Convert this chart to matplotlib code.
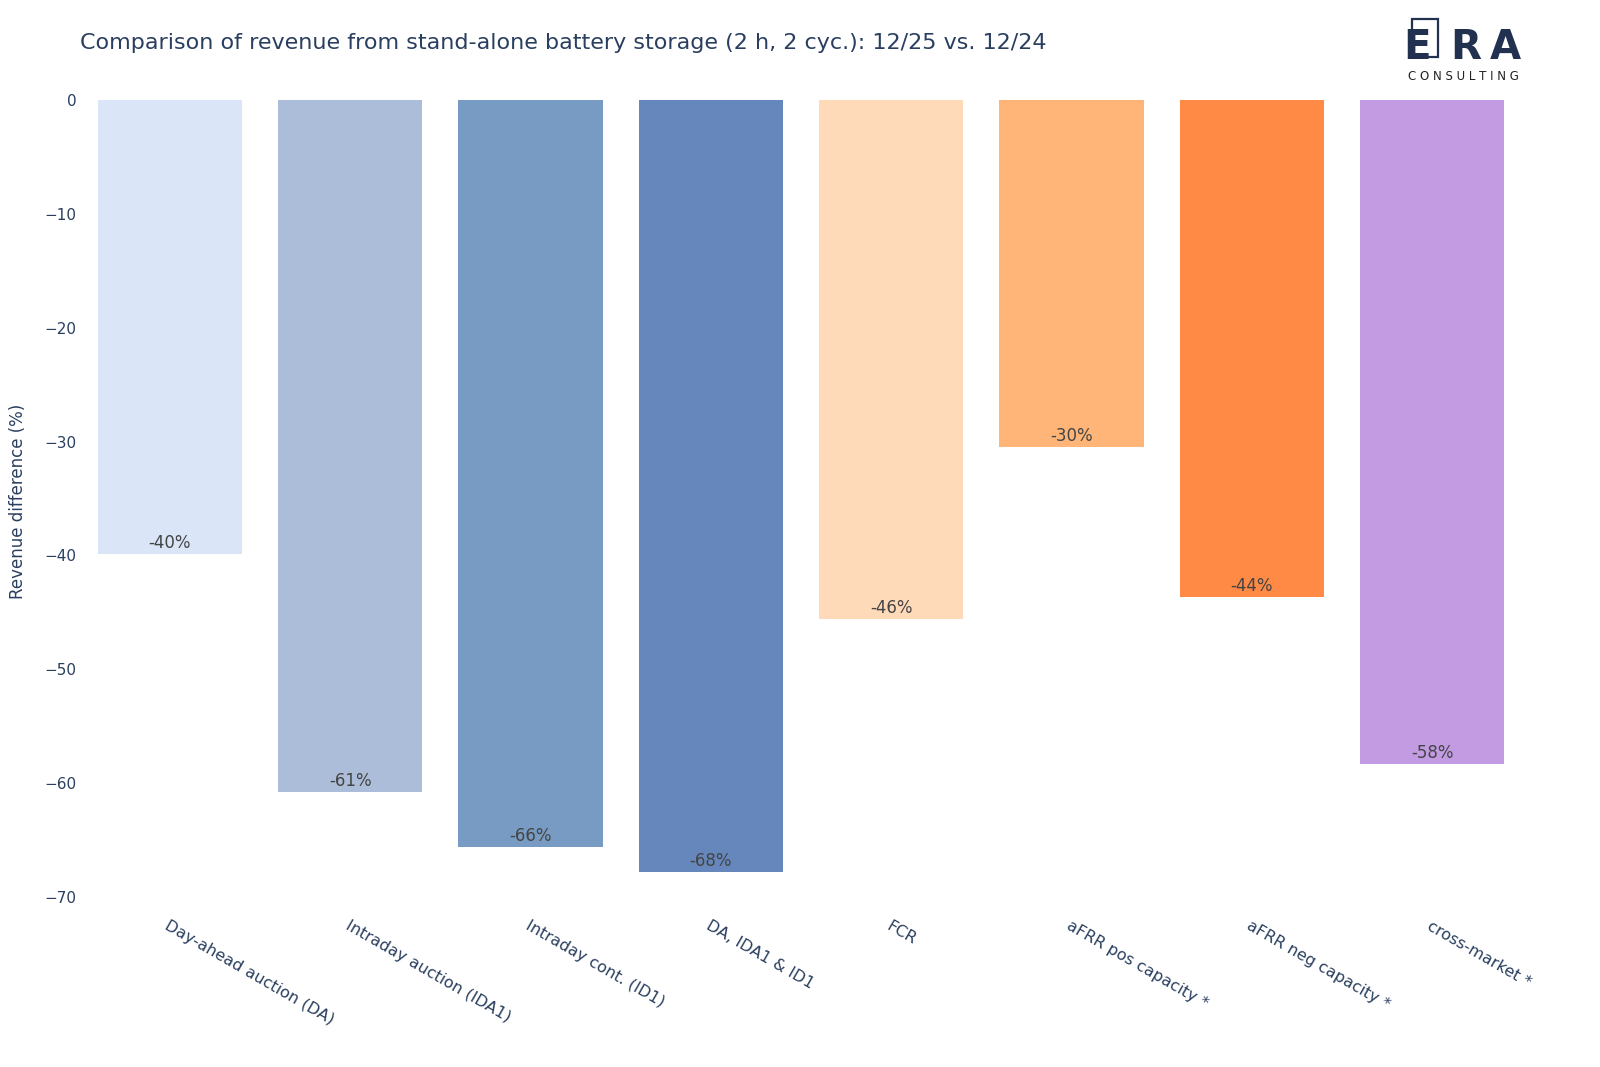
import matplotlib.pyplot as plt
from matplotlib.patches import Rectangle

categories = ['Day-ahead auction (DA)', 'Intraday auction (IDA1)', 'Intraday cont. (ID1)',
              'DA, IDA1 & ID1', 'FCR', 'aFRR pos capacity *', 'aFRR neg capacity *', 'cross-market *']
values = [-39.9, -60.8, -65.6, -67.8, -45.6, -30.5, -43.7, -58.3]
labels = ['-40%', '-61%', '-66%', '-68%', '-46%', '-30%', '-44%', '-58%']
colors = ['#dae6f7', '#abbdd9', '#789bc3', '#6587bb', '#ffdab9', '#ffb577', '#ff8a45', '#c39be2']
yticks = [0, -10, -20, -30, -40, -50, -60, -70]

navy = '#2a3f5f'
plt.rcParams['font.family'] = ['DejaVu Sans']

W, H = 1600, 1067
fig = plt.figure(figsize=(W / 100, H / 100), dpi=100)
ax = fig.add_axes([79.5 / W, 1 - 912.7 / H, 1443 / W, 812.5 / H])

x = list(range(len(categories)))
bars = ax.bar(x, values, width=0.8, color=colors)
for b, lab in zip(bars, labels):
    ax.annotate(lab, (b.get_x() + b.get_width() / 2, b.get_height()),
                xytext=(0, 8), textcoords='offset points', ha='center', va='center',
                fontsize=12, color='#444444')

ax.set_xlim(-0.5, 7.5)
ax.set_ylim(-71.4, 0)
ax.set_yticks(yticks)
ax.set_yticklabels(['0' if t == 0 else '\u2212' + str(-t) for t in yticks], fontsize=11, color=navy)
ax.set_xticks(x)
ax.set_xticklabels(categories, rotation=-30, ha='left', va='top', rotation_mode='anchor',
                   fontsize=11.5, color=navy)
ax.tick_params(axis='both', length=0)
ax.tick_params(axis='x', pad=4)
ax.tick_params(axis='y', pad=2)
for s in ax.spines.values():
    s.set_visible(False)
ax.set_ylabel('Revenue difference (%)', fontsize=12, color=navy, labelpad=0)
ax.yaxis.set_label_coords(-(79.5 - 27) / 1443, 0.5 - (501 - 506) / 812.5)

fig.text(80 / W, 1 - 43 / H,
         'Comparison of revenue from stand-alone battery storage (2 h, 2 cyc.): 12/25 vs. 12/24',
         fontsize=16, color=navy, va='center')

# logo
logo = '#22314f'
fig.patches.append(Rectangle((1412 / W, 1 - 57 / H), 26 / W, 38 / H, transform=fig.transFigure,
                             fill=False, edgecolor=logo, linewidth=1.6))
for letter, lx in zip('ERA', [1403, 1450, 1490]):
    fig.text(lx / W, 1 - 59 / H, letter, fontsize=29, fontweight='bold', color=logo,
             va='baseline', ha='left')
fig.text(1463 / W, 1 - 77 / H, 'C O N S U L T I N G', fontsize=8.5, color='#222222',
         va='center', ha='center')

fig.savefig('out.png', dpi=100, facecolor='white')
